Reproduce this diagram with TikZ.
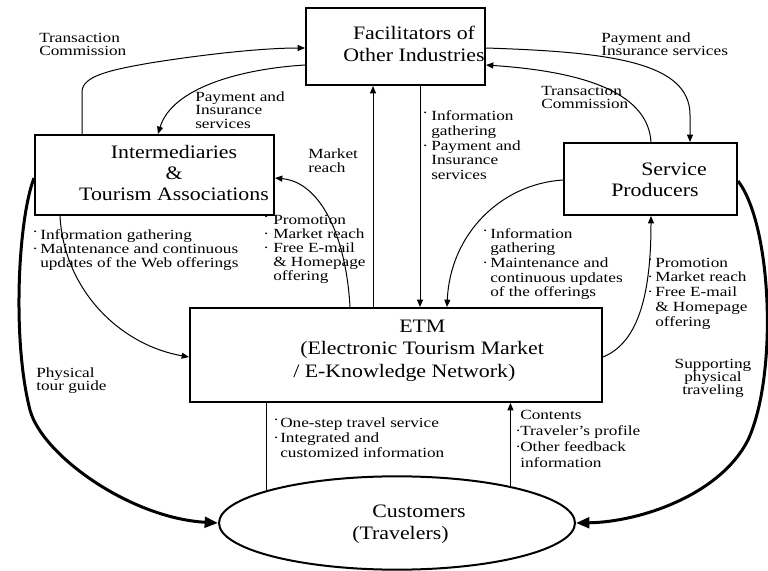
\documentclass[tikz,border=0pt]{standalone}
\usepackage{fontspec}
\setmainfont{Liberation Serif}
\newfontfamily\lblfont[FakeStretch=1.23]{Liberation Serif}
\newfontfamily\boxfont[FakeStretch=1.15]{Liberation Serif}
\usetikzlibrary{arrows.meta,calc,shapes.geometric}
\newdimen\PX \PX=0.75pt
\newcommand\Lft[2]{\vtop{\baselineskip=#1\lineskiplimit=-\maxdimen\lineskip=0pt\halign{##\hfil\cr #2\crcr}}}
\newcommand\Ctr[2]{\vtop{\baselineskip=#1\lineskiplimit=-\maxdimen\lineskip=0pt\halign{\hfil##\hfil\cr #2\crcr}}}
\newcommand\bA[1]{\makebox[#1\PX][l]{\raisebox{3\PX}{·}}}
\newcommand\bB[1]{\makebox[#1\PX][l]{·}}
\newcommand\ind[1]{\hspace*{#1\PX}}
\begin{document}
\begin{tikzpicture}[x=0.75pt,y=-0.75pt,
  box/.style={draw, line width=1.5pt, rectangle, inner sep=0},
  conn/.style={line width=0.75pt, -{Triangle[length=5.5pt,width=4.5pt]}},
  bigconn/.style={line width=2.25pt, -{Triangle[length=10pt,width=8pt]}},
  plainln/.style={line width=0.75pt},
  lbl/.style={font=\lblfont\fontsize{10.5pt}{12pt}\selectfont, inner sep=0, anchor=base west},
  btxt/.style={font=\boxfont\fontsize{14.25pt}{16pt}\selectfont, inner sep=0}]
\useasboundingbox (0,0) rectangle (768,571);
\fill[white] (0,0) rectangle (768,571);

% boxes
\node[box, minimum width=134.25pt, minimum height=57.75pt] (fac) at (395.5,46.5) {};
\node[box, minimum width=179.25pt, minimum height=60pt] (inter) at (154.5,175) {};
\node[box, minimum width=129.75pt, minimum height=54pt] (sp) at (650.5,179) {};
\node[box, minimum width=309pt, minimum height=70.5pt] (etm) at (396,355) {};
\node[draw, ellipse, line width=1.5pt, minimum width=267pt, minimum height=70pt, inner sep=0] (cust) at (397,523) {};

% box texts
\node[btxt, anchor=base] (facT) at (414,40) {\Ctr{22\PX}{Facilitators of\cr Other Industries}};
\node[btxt, anchor=base] (interT) at (174,158) {\Ctr{21\PX}{Intermediaries\cr\&\cr Tourism Associations}};
\node[btxt, anchor=base west] (spT) at (611,175) {\Lft{21\PX}{\hspace*{30\PX}Service\cr Producers}};
\node[btxt, anchor=base west] (etmT) at (293,332) {\Lft{22.5\PX}{\hspace*{106\PX}ETM\cr\hspace*{7\PX}(Electronic Tourism Market\cr / E-Knowledge Network)}};
\node[btxt, anchor=base west] (custT) at (352,517) {\Lft{22\PX}{\hspace*{20\PX}Customers\cr(Travelers)}};

% labels
\node[lbl] (l1) at (39,42) {\Lft{13\PX}{Transaction\cr Commission}};
\node[lbl] (l2) at (195,101) {\Lft{13.5\PX}{Payment and\cr Insurance\cr services}};
\node[lbl] (l3) at (308,158) {\Lft{14\PX}{Market\cr reach}};
\node[lbl] (l4) at (263,224) {\Lft{14\PX}{\bA{10}Promotion\cr\bB{10}Market reach\cr\bB{10}Free E-mail\cr\ind{10}\& Homepage\cr\ind{10}offering}};
\node[lbl] (l5) at (422,120) {\Lft{15\PX}{\bA{9}Information\cr\ind{9}gathering\cr\bB{9}Payment and\cr\ind{9}Insurance\cr\ind{9}services}};
\node[lbl] (l6) at (601,42) {\Lft{13\PX}{Payment and\cr Insurance services}};
\node[lbl] (l7) at (541,95) {\Lft{13\PX}{Transaction\cr Commission}};
\node[lbl] (l8) at (482,238) {\Lft{14.7\PX}{\bA{8}Information\cr\ind{8}gathering\cr\bB{8}Maintenance and\cr\ind{8}continuous updates\cr\ind{8}of the offerings}};
\node[lbl] (l9) at (647,267) {\Lft{14.8\PX}{\bA{8}Promotion\cr\bB{8}Market reach\cr\bB{8}Free E-mail\cr\ind{8}\& Homepage\cr\ind{8}offering}};
\node[lbl] (l10) at (32,239) {\Lft{14\PX}{\bA{8}Information gathering\cr\bB{8}Maintenance and continuous\cr\ind{8}updates of the Web offerings}};
\node[lbl] (l11) at (36,377) {\Lft{13.5\PX}{Physical\cr tour guide}};
\node[lbl, anchor=base] (l12) at (713,368) {\Ctr{13\PX}{Supporting\cr physical\cr traveling}};
\node[lbl] (l13) at (273,427) {\Lft{15\PX}{\bA{7}One-step travel service\cr\bB{7}Integrated and\cr\ind{7}customized information}};
\node[lbl] (l14) at (515,419) {\Lft{16\PX}{\ind{5}Contents\cr\bB{5}Traveler’s profile\cr\bB{5}Other feedback\cr\ind{5}information}};

% connectors
\draw[conn] (82,0 |- inter.north) -- (82,92) .. controls (82,76) and (110,70) .. (150,63) .. controls (200,55) and (260,48) .. (fac.west |- 0,48);
\draw[conn] (fac.west |- 0,65) .. controls (240,69) and (172,88) .. (158,0 |- inter.north);
\draw[conn] (350,0 |- etm.north) .. controls (346,235) and (320,182) .. (inter.east |- 0,178);
\draw[conn] (373,0 |- etm.north) -- (373,0 |- fac.south);
\draw[conn] (420,0 |- fac.south) -- (420,0 |- etm.north);
\draw[conn] (fac.east |- 0,48) .. controls (610,52) and (690,62) .. (690,115) -- (690,0 |- sp.north);
\draw[conn] (651,0 |- sp.north) .. controls (648,95) and (590,72) .. (fac.east |- 0,65);
\draw[conn] (sp.west |- 0,180) .. controls (500,184) and (450,235) .. (447,0 |- etm.north);
\draw[conn] (etm.east |- 0,357) .. controls (640,342) and (651,290) .. (651,0 |- sp.south);
\draw[conn] (60,0 |- inter.south) .. controls (64,290) and (120,345) .. (etm.west |- 0,357);
\draw[bigconn] (inter.west |- 0,178) .. controls (18,220) and (12,340) .. (30,410) .. controls (42,455) and (130,518) .. (cust.west);
\draw[bigconn] (sp.east |- 0,181) .. controls (772,225) and (778,375) .. (748,440) .. controls (720,495) and (640,522) .. (cust.east);
\draw[plainln] (cust.166 |- etm.south) -- (cust.166);
\draw[conn] (cust.18) -- (cust.18 |- etm.south);
\end{tikzpicture}
\end{document}
